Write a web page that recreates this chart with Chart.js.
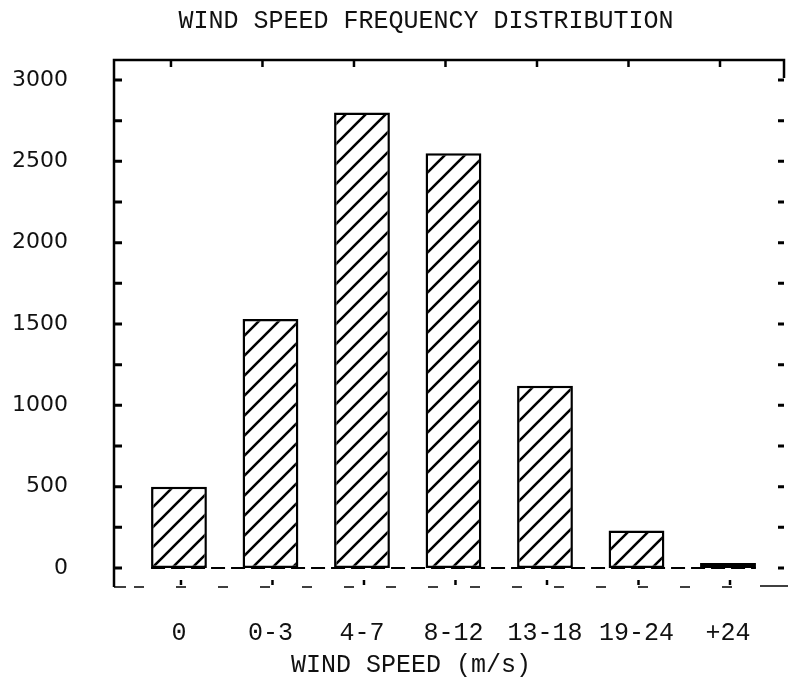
<!DOCTYPE html>
<html>
<head>
<meta charset="utf-8">
<script src="https://cdn.jsdelivr.net/npm/chart.js@4.4.1/dist/chart.umd.min.js"></script>
<style>
html,body{margin:0;padding:0;background:#fff;}
#c{display:block;}
</style>
</head>
<body>
<canvas id="c" width="788" height="678" style="width:788px;height:678px"></canvas>
<script>
// ---- data ----
const categories = ['0', '0-3', '4-7', '8-12', '13-18', '19-24', '+24'];
const frequencies = [500, 1530, 2800, 2550, 1120, 230, 30];
const yTickValues = [0, 500, 1000, 1500, 2000, 2500, 3000];
const yMinorStep = 250;
const titleText = 'WIND SPEED FREQUENCY DISTRIBUTION';
const xTitleText = 'WIND SPEED (m/s)';

const canvas = document.getElementById('c');
const mainCtx = canvas.getContext('2d');

function makeHatch() {
  const s = 20;
  const c = document.createElement('canvas');
  c.width = s; c.height = s;
  const g = c.getContext('2d');
  g.fillStyle = '#fff';
  g.fillRect(0, 0, s, s);
  g.strokeStyle = '#000';
  g.lineWidth = 2.6;
  g.beginPath();
  g.moveTo(0, s); g.lineTo(s, 0);
  g.moveTo(-s, s); g.lineTo(s, -s);
  g.moveTo(0, 2 * s); g.lineTo(2 * s, 0);
  g.stroke();
  return mainCtx.createPattern(c, 'repeat');
}

const framePlugin = {
  id: 'frame',
  beforeDatasetsDraw(chart) {
    const {ctx, scales: {y}} = chart;
    const meta = chart.getDatasetMeta(0);
    const first = meta.data[0], last = meta.data[meta.data.length - 1];
    const y0 = y.getPixelForValue(0);
    ctx.save();
    ctx.strokeStyle = '#000';
    ctx.lineWidth = 2;
    ctx.setLineDash([14, 6]);
    ctx.beginPath();
    ctx.moveTo(first.x - first.width / 2, y0);
    ctx.lineTo(last.x + last.width / 2, y0);
    ctx.stroke();
    ctx.restore();
  },
  afterDatasetsDraw(chart) {
    const {ctx, chartArea: a, scales: {x, y}} = chart;
    ctx.save();
    ctx.strokeStyle = '#000';
    ctx.lineWidth = 2.5;
    ctx.beginPath();
    ctx.moveTo(a.left, a.bottom);
    ctx.lineTo(a.left, a.top);
    ctx.lineTo(a.right, a.top);
    ctx.lineTo(a.right, a.top + 18);
    ctx.stroke();
    ctx.lineWidth = 3;
    for (let v = 0; v <= yTickValues[yTickValues.length - 1]; v += yMinorStep) {
      const py = y.getPixelForValue(v);
      ctx.beginPath();
      ctx.moveTo(a.left, py); ctx.lineTo(a.left + 8, py);
      ctx.moveTo(a.right - 6, py); ctx.lineTo(a.right, py);
      ctx.stroke();
    }
    ctx.lineWidth = 2.5;
    categories.forEach((_, i) => {
      const px = x.getPixelForValue(i) - 8;
      ctx.beginPath();
      ctx.moveTo(px, a.top); ctx.lineTo(px, a.top + 7);
      ctx.stroke();
    });
    categories.forEach((_, i) => {
      const px = x.getPixelForValue(i) + 2;
      ctx.beginPath();
      ctx.moveTo(px, a.bottom - 7); ctx.lineTo(px, a.bottom - 2);
      ctx.stroke();
    });
    ctx.lineWidth = 1.5;
    ctx.beginPath();
    ctx.moveTo(a.left, a.bottom); ctx.lineTo(a.left + 12, a.bottom);
    ctx.stroke();
    ctx.setLineDash([10, 32]);
    ctx.beginPath();
    ctx.moveTo(a.left + 20, a.bottom); ctx.lineTo(a.right - 30, a.bottom);
    ctx.stroke();
    ctx.setLineDash([]);
    ctx.beginPath();
    ctx.moveTo(a.right - 24, a.bottom - 1); ctx.lineTo(a.right + 4, a.bottom - 1);
    ctx.stroke();
    ctx.restore();
  }
};

new Chart(canvas, {
  type: 'bar',
  data: {
    datasets: [{
      data: frequencies.map((v, i) => ({x: i, y: v})),
      backgroundColor: makeHatch(),
      borderColor: '#000',
      borderWidth: 2.5,
      borderSkipped: false,
      barPercentage: 0.61,
      categoryPercentage: 1
    }]
  },
  options: {
    responsive: false,
    animation: false,
    devicePixelRatio: 1,
    layout: {padding: {left: 8, right: 4, top: 0, bottom: 0}},
    plugins: {
      legend: {display: false},
      tooltip: {enabled: false},
      title: {
        display: true, text: '    ' + titleText, color: '#111',
        font: {family: 'Liberation Mono', size: 25, weight: 'normal', lineHeight: 1},
        padding: {top: 8.5, bottom: 26.5}
      },
      subtitle: {
        display: true, position: 'bottom', text: '  ' + xTitleText, color: '#111',
        font: {family: 'Liberation Mono', size: 25, weight: 'normal', lineHeight: 1},
        padding: {top: 7.5, bottom: 0.5}
      }
    },
    scales: {
      x: {
        type: 'linear', min: -0.71, max: 6.612, offset: false,
        grid: {display: false, drawTicks: false},
        border: {display: false},
        afterBuildTicks: s => { s.ticks = categories.map((_, i) => ({value: i})); },
        afterFit: s => { s.height = 58; },
        ticks: {
          padding: 34, color: '#111', autoSkip: false, maxRotation: 0,
          font: {family: 'Liberation Mono', size: 25, lineHeight: 1},
          callback: v => categories[v]
        }
      },
      y: {
        min: -117, max: 3123, offset: false,
        grid: {display: false, drawTicks: false},
        border: {display: false},
        afterBuildTicks: s => { s.ticks = yTickValues.map(v => ({value: v})); },
        afterFit: s => { s.width = 106; },
        ticks: {
          padding: 46, color: '#111',
          font: {family: '"DejaVu Sans", sans-serif', size: 22},
          callback: v => String(v)
        }
      }
    }
  },
  plugins: [framePlugin]
});
</script>
</body>
</html>
